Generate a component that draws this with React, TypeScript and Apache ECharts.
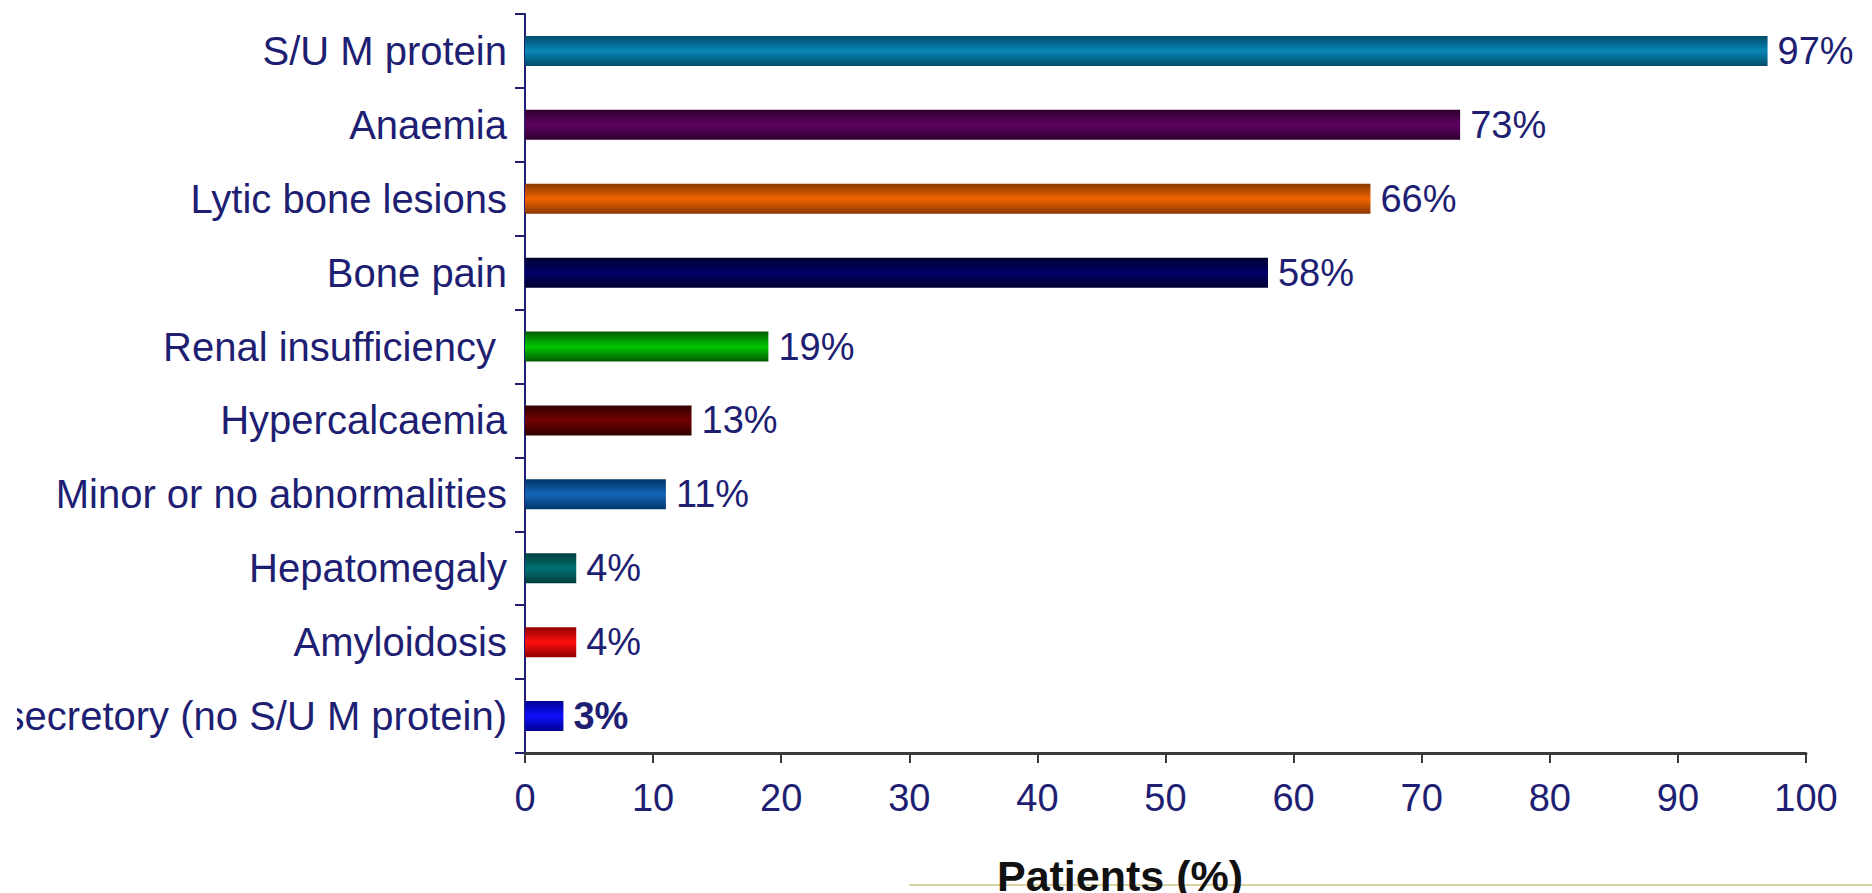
import React, { useEffect, useRef } from "react";
import * as echarts from "echarts";

const categories = [
  "S/U M protein",
  "Anaemia",
  "Lytic bone lesions",
  "Bone pain",
  "Renal insufficiency\u00a0",
  "Hypercalcaemia",
  "Minor or no abnormalities",
  "Hepatomegaly",
  "Amyloidosis",
  "Non-secretory (no S/U M protein)",
];
const values = [97, 73, 66, 58, 19, 13, 11, 4, 4, 3];
const barMid = ["#0a86b8", "#5f0060", "#f06400", "#000068", "#00c800", "#720000", "#1466b8", "#007272", "#ff1010", "#1010ff"];
const barEdge = ["#004c68", "#2e002e", "#8a3800", "#000030", "#005a00", "#300000", "#003468", "#003c3c", "#900000", "#000090"];
const xTicks = { min: 0, max: 100, interval: 10 };
const axisTitle = "Patients (%)";

const NAVY = "#1e1e72";
const OFFSET = 17;

export default function App() {
  const ref = useRef<HTMLDivElement>(null);
  useEffect(() => {
    const chart = echarts.init(ref.current!, undefined, { renderer: "svg" });
    const data = values.map((v, i) => ({
      value: v,
      itemStyle: {
        color: new echarts.graphic.LinearGradient(0, 0, 0, 1, [
          { offset: 0, color: barEdge[i] },
          { offset: 0.5, color: barMid[i] },
          { offset: 1, color: barEdge[i] },
        ]),
      },
      label: i === values.length - 1 ? { fontWeight: "bold" } : undefined,
    }));
    chart.setOption({
      animation: false,
      backgroundColor: "#ffffff",
      grid: {
        left: 525 - OFFSET,
        right: 66,
        top: 14,
        bottom: 140,
        containLabel: false,
        outerBoundsMode: "none",
      },
      xAxis: {
        type: "value",
        min: xTicks.min,
        max: xTicks.max,
        interval: xTicks.interval,
        splitLine: { show: false },
        axisLine: { show: true, lineStyle: { color: "#3a3a3a", width: 3 } },
        axisTick: { show: true, length: 10, lineStyle: { color: "#3a3a3a", width: 2 } },
        axisLabel: { color: NAVY, fontSize: 38, fontFamily: "Liberation Sans, Arial", margin: 26 },
      },
      yAxis: {
        type: "category",
        data: categories,
        inverse: true,
        axisLine: { show: true, lineStyle: { color: NAVY, width: 2 } },
        axisTick: { show: true, length: 10, alignWithLabel: false, lineStyle: { color: NAVY, width: 2 } },
        axisLabel: { color: NAVY, fontSize: 40, fontFamily: "Liberation Sans, Arial", margin: 18 },
      },
      series: [
        {
          type: "bar",
          data,
          barWidth: 30,
          label: {
            show: true,
            position: "right",
            distance: 10,
            formatter: "{c}%",
            color: NAVY,
            fontSize: 38,
            fontFamily: "Liberation Sans, Arial",
          },
        },
      ],
      graphic: [
        {
          type: "line",
          shape: { x1: 909 - OFFSET, y1: 885, x2: 1872, y2: 885 },
          style: { stroke: "#d8d2a4", lineWidth: 2 },
        },
        {
          type: "text",
          x: 1120 - OFFSET,
          y: 876,
          style: {
            text: axisTitle,
            fontSize: 43,
            fontWeight: "bold",
            fontFamily: "Liberation Sans, Arial",
            fill: "#111111",
            textAlign: "center",
            textVerticalAlign: "middle",
          },
        },
      ],
    });
    return () => chart.dispose();
  }, []);
  return (
    <div
      ref={ref}
      style={{ position: "absolute", left: OFFSET, top: 0, width: 1872 - OFFSET, height: 893, overflow: "hidden" }}
    />
  );
}
